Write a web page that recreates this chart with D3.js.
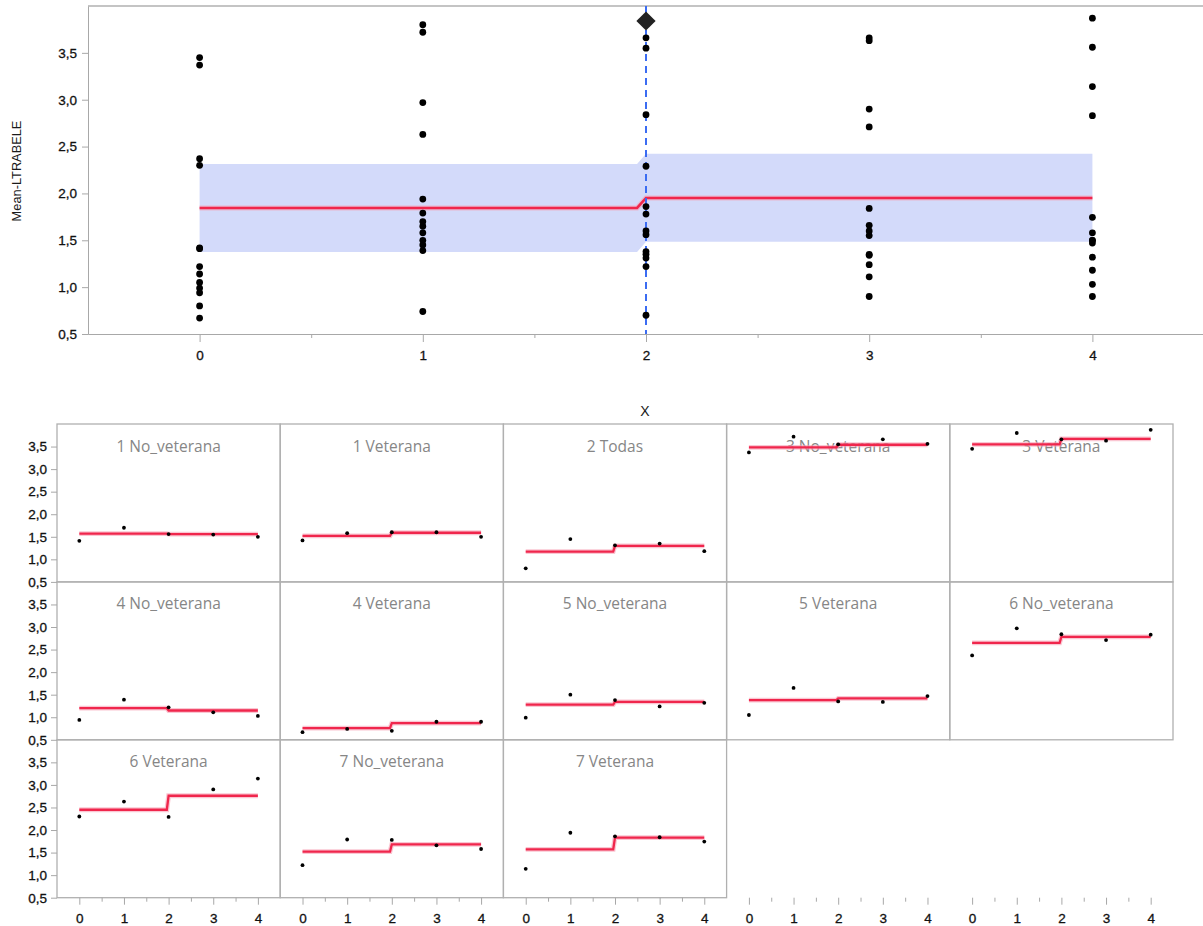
<!DOCTYPE html>
<html>
<head>
<meta charset="utf-8">
<script src="https://cdn.jsdelivr.net/npm/d3@7"></script>
<style>
  body { margin: 0; background: #fff; }
  svg { display: block; font-family: "Liberation Sans", Arial, sans-serif; }
  .axis path, .axis line { stroke: #a8a8a8; }
  .axis text { fill: #111; stroke: #111; stroke-width: 0.3; font-size: 13.5px; font-family: "Liberation Sans", Arial, sans-serif; }
  .frame { stroke: #b0b0b0; stroke-width: 1.3; fill: none; }
  .title { fill: #868686; font-family: "Open Sans", sans-serif; font-size: 15.5px; }
</style>
</head>
<body>
<svg width="1203" height="926"></svg>
<script>
// ---- data ----
var xValues = [0, 1, 2, 3, 4];
var xMinor = [0.5, 1.5, 2.5, 3.5];
var yTicks = [0.5, 1.0, 1.5, 2.0, 2.5, 3.0, 3.5];

var panelNames = ["1 No_veterana", "1 Veterana", "2 Todas", "3 No_veterana", "3 Veterana",
                  "4 No_veterana", "4 Veterana", "5 No_veterana", "5 Veterana", "6 No_veterana",
                  "6 Veterana", "7 No_veterana", "7 Veterana"];

// mean per panel at x = 0..4
var panelMeans = [
    [1.41, 1.70, 1.56, 1.55, 1.50],
    [1.42, 1.58, 1.60, 1.60, 1.50],
    [0.80, 1.45, 1.31, 1.35, 1.18],
    [3.37, 3.72, 3.55, 3.66, 3.56],
    [3.45, 3.80, 3.66, 3.63, 3.87],
    [0.94, 1.39, 1.22, 1.11, 1.03],
    [0.67, 0.74, 0.70, 0.90, 0.90],
    [0.99, 1.50, 1.38, 1.24, 1.32],
    [1.05, 1.65, 1.35, 1.34, 1.47],
    [2.37, 2.97, 2.84, 2.71, 2.83],
    [2.30, 2.63, 2.29, 2.90, 3.14],
    [1.22, 1.79, 1.78, 1.66, 1.58],
    [1.14, 1.94, 1.86, 1.84, 1.745]
];

// fitted level before / after the change point (x = 2)
var fitBefore = [1.57, 1.52, 1.17, 3.48, 3.55, 1.20, 0.76, 1.28, 1.38, 2.65, 2.45, 1.52, 1.57];
var fitAfter  = [1.56, 1.59, 1.30, 3.54, 3.67, 1.15, 0.87, 1.34, 1.42, 2.78, 2.76, 1.68, 1.83];

// overall fit and its band
var overallFit = [1.845, 1.951];
var bandLower = [1.375, 1.485];
var bandUpper = [2.314, 2.424];

var changeX = 2;
var markerY = 3.84;

// ---- helpers ----
var svg = d3.select("svg");
var fmt = function(d) { return d3.format(".1f")(d).replace(".", ","); };
var redCol = "#f0264c";

// step: level a from 0 to just before 2, slant, level b from 2 to 4
function stepPts(a, b) {
    return [[0, a], [changeX - 0.04, a], [changeX, b], [4, b]];
}

function drawFit(g, xs, ys, a, b, w) {
    var line = d3.line().x(function(d) { return xs(d[0]); }).y(function(d) { return ys(d[1]); });
    g.append("path").attr("d", line(stepPts(a, b)))
        .attr("fill", "none").attr("stroke", "#f7a0b4").attr("stroke-width", w + 2.5).attr("opacity", 0.6);
    g.append("path").attr("d", line(stepPts(a, b)))
        .attr("fill", "none").attr("stroke", redCol).attr("stroke-width", w);
}

// ================= top chart =================
var xTop = d3.scaleLinear().domain([-0.5, 4.5]).range([88, 1204]);
var yTop = d3.scaleLinear().domain([0.5, 4.0]).range([334, 6]);

var topG = svg.append("g");

// band
var bandPts = [
    [0, bandLower[0], bandUpper[0]],
    [changeX - 0.04, bandLower[0], bandUpper[0]],
    [changeX, bandLower[1], bandUpper[1]],
    [4, bandLower[1], bandUpper[1]]
];
topG.append("path")
    .attr("d", d3.area()
        .x(function(d) { return xTop(d[0]); })
        .y0(function(d) { return yTop(d[1]); })
        .y1(function(d) { return yTop(d[2]); })(bandPts))
    .attr("fill", "#d3dafa");

drawFit(topG, xTop, yTop, overallFit[0], overallFit[1], 2.5);

// frame lines
topG.append("line").attr("class", "frame").attr("x1", 88).attr("x2", 1203).attr("y1", 6).attr("y2", 6);

// axes
topG.append("g").attr("class", "axis").attr("transform", "translate(88,0)")
    .call(d3.axisLeft(yTop).tickValues(yTicks).tickFormat(fmt).tickSize(6).tickSizeOuter(0).tickPadding(5));
topG.append("g").attr("class", "axis").attr("transform", "translate(0,334)")
    .call(d3.axisBottom(xTop).tickValues(xValues).tickFormat(d3.format("d")).tickSize(8).tickSizeOuter(0).tickPadding(8));
topG.append("g").attr("class", "axis").attr("transform", "translate(0,334)")
    .call(d3.axisBottom(xTop).tickValues(xMinor).tickFormat("").tickSize(4).tickSizeOuter(0));

// dashed marker line
topG.append("line")
    .attr("x1", xTop(changeX)).attr("x2", xTop(changeX))
    .attr("y1", yTop(4.0)).attr("y2", yTop(0.5))
    .attr("stroke", "#3b6cf2").attr("stroke-width", 2).attr("stroke-dasharray", "7,5");

// points: all panels at each x
var allPts = [];
panelMeans.forEach(function(row) {
    row.forEach(function(v, j) { allPts.push([xValues[j], v]); });
});
topG.selectAll("circle.pt").data(allPts).enter().append("circle")
    .attr("class", "pt")
    .attr("cx", function(d) { return xTop(d[0]); })
    .attr("cy", function(d) { return yTop(d[1]); })
    .attr("r", 3.4)
    .attr("fill", "#000");

// diamond marker
topG.append("path")
    .attr("d", d3.symbol().type(d3.symbolSquare).size(185)())
    .attr("transform", "translate(" + xTop(changeX) + "," + yTop(markerY) + ") rotate(45)")
    .attr("fill", "#222");

// y title
svg.append("text")
    .attr("transform", "translate(21,171) rotate(-90)")
    .attr("text-anchor", "middle")
    .style("font-size", "12.8px")
    .attr("fill", "#1a1a1a")
    .text("Mean-LTRABELE");

// x title
svg.append("text")
    .attr("x", 645).attr("y", 416)
    .attr("text-anchor", "middle")
    .style("font-size", "14px")
    .attr("fill", "#1a1a1a")
    .text("X");

// ================= small multiples =================
var gx0 = 57, gy0 = 424, pw = 223.2, ph = 157.9, ncol = 5, nrow = 3;
var px = d3.scaleLinear().domain([-0.5, 4.5]).range([0, pw]);
var py = d3.scaleLinear().domain([0.5, 4.0]).range([ph, 0]);

panelNames.forEach(function(name, i) {
    var c = i % ncol, r = Math.floor(i / ncol);
    var g = svg.append("g").attr("transform", "translate(" + (gx0 + c * pw) + "," + (gy0 + r * ph) + ")");

    g.append("rect").attr("class", "frame").attr("width", pw).attr("height", ph);

    g.append("text").attr("class", "title")
        .attr("x", pw / 2).attr("y", 27.5)
        .attr("text-anchor", "middle")
        .text(name);

    drawFit(g, px, py, fitBefore[i], fitAfter[i], 2.3);

    g.selectAll("circle").data(panelMeans[i]).enter().append("circle")
        .attr("cx", function(d, j) { return px(xValues[j]); })
        .attr("cy", function(d) { return py(d); })
        .attr("r", 1.9)
        .attr("fill", "#000");
});

// y axes, one per row
for (var r = 0; r < nrow; r++) {
    svg.append("g").attr("class", "axis")
        .attr("transform", "translate(" + gx0 + "," + (gy0 + r * ph) + ")")
        .call(d3.axisLeft(py).tickValues(yTicks).tickFormat(fmt).tickSize(6).tickSizeOuter(0).tickPadding(4))
        .select(".domain").remove();
}

// x axes, one per column
for (var c = 0; c < ncol; c++) {
    var ax = svg.append("g").attr("class", "axis")
        .attr("transform", "translate(" + (gx0 + c * pw) + "," + (gy0 + nrow * ph) + ")");
    ax.call(d3.axisBottom(px).tickValues(xValues).tickFormat(d3.format("d")).tickSize(7).tickSizeOuter(0).tickPadding(8.5));
    ax.select(".domain").remove();
    var mn = svg.append("g").attr("class", "axis")
        .attr("transform", "translate(" + (gx0 + c * pw) + "," + (gy0 + nrow * ph) + ")");
    mn.call(d3.axisBottom(px).tickValues(xMinor).tickFormat("").tickSize(4).tickSizeOuter(0));
    mn.select(".domain").remove();
}
</script>
</body>
</html>
